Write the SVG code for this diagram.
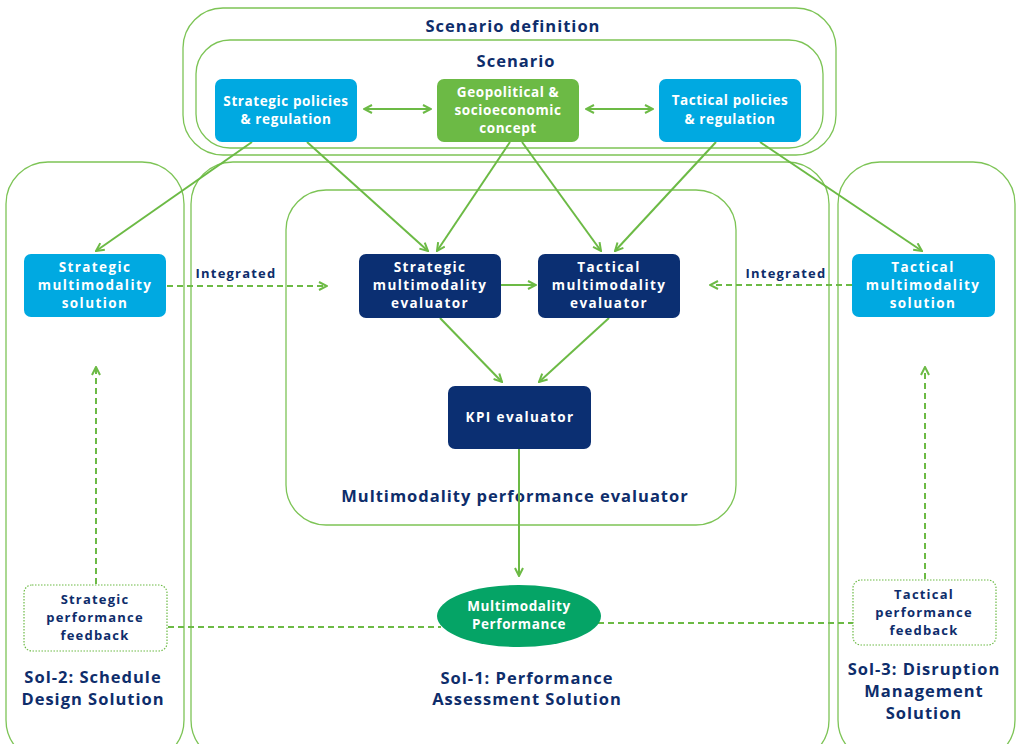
<svg xmlns="http://www.w3.org/2000/svg" width="1022" height="744" viewBox="0 0 1022 744">
<style>
.cont{fill:none;stroke:#7DC456;stroke-width:1.3}
.lb{fill:#00A9E1}
.gr{fill:#6CBA45}
.nv{fill:#0B2F72}
.t{font-family:"Open Sans","Liberation Sans",sans-serif;font-weight:700;text-anchor:middle}
.w{fill:#ffffff;font-size:13.5px;letter-spacing:1.4px}
.tp{letter-spacing:0.6px}
.d{fill:#0E2D6B}
.h{font-size:16.5px;letter-spacing:1px}
.s{font-size:13px;letter-spacing:1.2px}
.c{fill:none;stroke:#6CBA45;stroke-width:2}
.dash{fill:none;stroke:#6CBA45;stroke-width:2;stroke-dasharray:6,4}
.fb{fill:#fff;stroke:#6CBA45;stroke-width:1.2;stroke-dasharray:1.5,1.5}
</style>
<defs>
<marker id="ah" viewBox="0 0 10 10" refX="9" refY="5" markerWidth="5" markerHeight="5" orient="auto-start-reverse" markerUnits="strokeWidth">
<path d="M1,1 L9,5 L1,9" fill="none" stroke="#6CBA45" stroke-width="2"/>
</marker>
</defs>
<rect width="1022" height="744" fill="#ffffff"/>
<g id="containers">
<rect id="scenario-definition" class="cont" x="183" y="8" width="653" height="147" rx="40"/>
<rect id="scenario" class="cont" x="196" y="40" width="627" height="108" rx="34"/>
<rect id="sol2" class="cont" x="6" y="162" width="178" height="600" rx="42"/>
<rect id="sol1" class="cont" x="191" y="162" width="638" height="600" rx="42"/>
<rect id="sol3" class="cont" x="838" y="162" width="177" height="600" rx="42"/>
<rect id="mpe" class="cont" x="286" y="190" width="450" height="335" rx="40"/>
</g>
<g id="container-labels" class="t d">
<text class="h" x="513" y="32">Scenario definition</text>
<text class="h" x="516" y="67">Scenario</text>
<text class="h" x="515" y="502">Multimodality performance evaluator</text>
<text class="h" x="527" y="684">Sol-1: Performance</text>
<text class="h" x="527" y="705">Assessment Solution</text>
<text class="h" x="93" y="683">Sol-2: Schedule</text>
<text class="h" x="93" y="705">Design Solution</text>
<text class="h" x="924" y="675">Sol-3: Disruption</text>
<text class="h" x="924" y="697">Management</text>
<text class="h" x="924" y="719">Solution</text>
</g>
<g id="connectors">
<line class="c" x1="364" y1="109" x2="431" y2="109" marker-start="url(#ah)" marker-end="url(#ah)"/>
<line class="c" x1="586" y1="109" x2="653" y2="109" marker-start="url(#ah)" marker-end="url(#ah)"/>
<line class="c" x1="252" y1="142" x2="96" y2="251" marker-end="url(#ah)"/>
<line class="c" x1="307" y1="142" x2="428" y2="251" marker-end="url(#ah)"/>
<line class="c" x1="510" y1="142" x2="437" y2="251" marker-end="url(#ah)"/>
<line class="c" x1="522" y1="142" x2="601" y2="251" marker-end="url(#ah)"/>
<line class="c" x1="716" y1="142" x2="615" y2="251" marker-end="url(#ah)"/>
<line class="c" x1="760" y1="142" x2="922" y2="251" marker-end="url(#ah)"/>
<line class="c" x1="501" y1="285" x2="536" y2="285" marker-end="url(#ah)"/>
<line class="c" x1="440" y1="318" x2="502" y2="382" marker-end="url(#ah)"/>
<line class="c" x1="609" y1="318" x2="539" y2="382" marker-end="url(#ah)"/>
<line class="c" x1="519" y1="449" x2="519" y2="576" marker-end="url(#ah)"/>
<line class="dash" x1="167" y1="286" x2="327" y2="286" marker-end="url(#ah)"/>
<line class="dash" x1="852" y1="285" x2="710" y2="285" marker-end="url(#ah)"/>
<line class="dash" x1="96" y1="584" x2="96" y2="367" marker-end="url(#ah)"/>
<line class="dash" x1="925" y1="579" x2="925" y2="367" marker-end="url(#ah)"/>
<line class="dash" x1="168" y1="627" x2="441" y2="627"/>
<line class="dash" x1="548" y1="623" x2="853" y2="623"/>
</g>
<g id="connector-labels" class="t d">
<text class="s" x="236" y="278">Integrated</text>
<text class="s" x="786" y="278">Integrated</text>
</g>
<g id="strategic-policies">
<rect class="lb" x="215" y="79" width="142" height="63" rx="7"/>
<text class="t w tp" x="286" y="106">Strategic policies</text>
<text class="t w tp" x="286" y="124">&amp; regulation</text>
</g>
<g id="geopolitical">
<rect class="gr" x="437" y="79" width="142" height="63" rx="7"/>
<text class="t w tp" x="508" y="97">Geopolitical &amp;</text>
<text class="t w tp" x="508" y="115">socioeconomic</text>
<text class="t w tp" x="508" y="133">concept</text>
</g>
<g id="tactical-policies">
<rect class="lb" x="659" y="79" width="142" height="63" rx="7"/>
<text class="t w tp" x="730" y="105">Tactical policies</text>
<text class="t w tp" x="730" y="124">&amp; regulation</text>
</g>
<g id="strategic-solution">
<rect class="lb" x="24" y="254" width="142" height="63" rx="7"/>
<text class="t w" x="95" y="272">Strategic</text>
<text class="t w" x="95" y="290">multimodality</text>
<text class="t w" x="95" y="308">solution</text>
</g>
<g id="tactical-solution">
<rect class="lb" x="852" y="254" width="143" height="63" rx="7"/>
<text class="t w" x="923" y="272">Tactical</text>
<text class="t w" x="923" y="290">multimodality</text>
<text class="t w" x="923" y="308">solution</text>
</g>
<g id="strategic-evaluator">
<rect class="nv" x="359" y="254" width="142" height="64" rx="7"/>
<text class="t w" x="430" y="272">Strategic</text>
<text class="t w" x="430" y="290">multimodality</text>
<text class="t w" x="430" y="308">evaluator</text>
</g>
<g id="tactical-evaluator">
<rect class="nv" x="538" y="254" width="142" height="64" rx="7"/>
<text class="t w" x="609" y="272">Tactical</text>
<text class="t w" x="609" y="290">multimodality</text>
<text class="t w" x="609" y="308">evaluator</text>
</g>
<g id="kpi-evaluator">
<rect class="nv" x="448" y="386" width="143" height="63" rx="7"/>
<text class="t w" x="520" y="422">KPI evaluator</text>
</g>
<g id="multimodality-performance">
<ellipse cx="519" cy="616" rx="82" ry="31" fill="#05A466"/>
<text class="t w tp" x="519" y="611">Multimodality</text>
<text class="t w tp" x="519" y="629">Performance</text>
</g>
<g id="strategic-feedback">
<rect class="fb" x="24" y="585" width="143" height="66" rx="8"/>
<text class="t d s" x="95" y="604">Strategic</text>
<text class="t d s" x="95" y="622">performance</text>
<text class="t d s" x="95" y="640">feedback</text>
</g>
<g id="tactical-feedback">
<rect class="fb" x="853" y="580" width="143" height="65" rx="8"/>
<text class="t d s" x="924" y="599">Tactical</text>
<text class="t d s" x="924" y="617">performance</text>
<text class="t d s" x="924" y="635">feedback</text>
</g>
</svg>
